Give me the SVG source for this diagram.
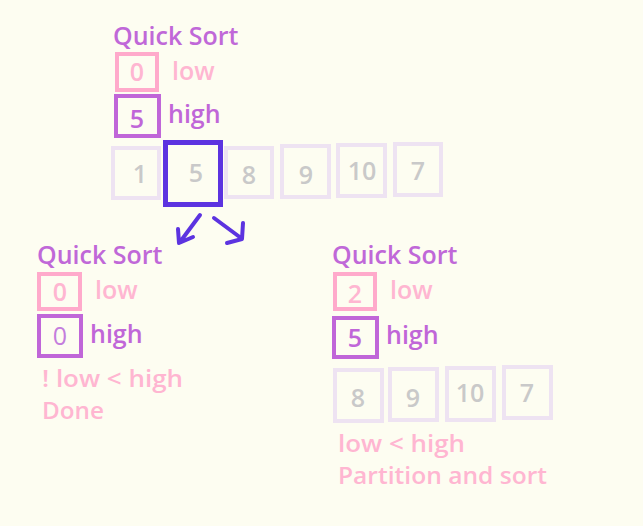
<svg xmlns="http://www.w3.org/2000/svg" width="643" height="526" viewBox="0 0 643 526">
<style>
text{font-family:"Open Sans","Noto Sans","Liberation Sans",sans-serif;font-weight:600;font-size:25px}
.title{fill:#c068d8}
.pk{fill:none;stroke:#ffaacb;stroke-width:4}
.pu{fill:none;stroke:#c066d8;stroke-width:4}
.gr{fill:none;stroke:#eee3f2;stroke-width:4}
.hl{fill:none;stroke:#5c33e0;stroke-width:5}
.pt{fill:#ffb6d1}
.ut{fill:#c066d8}
.nt{fill:#c9c9c9;text-anchor:middle}
.c{text-anchor:middle}
.note{font-size:23.5px}
.arr{fill:none;stroke:#5c33e0;stroke-width:4;stroke-linecap:round;stroke-linejoin:round}
</style>
<rect width="643" height="526" fill="#fdfdf1"/>
<g id="top">
<text class="title" x="113" y="45">Quick Sort</text>
<rect class="pk" x="117" y="54" width="40" height="36"/>
<text class="pt c" x="137" y="81">0</text>
<text class="pt" x="172" y="80">low</text>
<rect class="pu" x="116" y="96" width="43" height="40"/>
<text class="ut c" x="137" y="128">5</text>
<text class="ut" x="168" y="123">high</text>
</g>
<g id="top-array">
<rect class="gr" x="113" y="148" width="46" height="50"/>
<text class="nt" x="140" y="183">1</text>
<rect class="hl" x="165.500" y="142.500" width="55" height="62"/>
<text class="nt" x="196" y="182">5</text>
<rect class="gr" x="226" y="148" width="46" height="49"/>
<text class="nt" x="249" y="184">8</text>
<rect class="gr" x="282" y="146" width="47" height="51"/>
<text class="nt" x="306" y="184">9</text>
<rect class="gr" x="338" y="145" width="47" height="51"/>
<text class="nt" x="362" y="180">10</text>
<rect class="gr" x="395" y="144" width="46" height="51"/>
<text class="nt" x="418" y="180">7</text>
</g>
<g id="connectors">
<path class="arr" d="M200 215 L180 242 M178 229 L179 243 L193 237"/>
<path class="arr" d="M214 218 L241 238 M243 223 L242 239 L227 243"/>
</g>
<g id="left">
<text class="title" x="37" y="264">Quick Sort</text>
<rect class="pk" x="39" y="274" width="41" height="35"/>
<text class="pt c" x="60" y="301">0</text>
<text class="pt" x="95" y="299">low</text>
<rect class="pu" x="39" y="316" width="42" height="40"/>
<text class="c" fill="#c47ddd" x="60" y="345" style="font-weight:400">0</text>
<text class="ut" x="90" y="343">high</text>
<text class="pt note" x="42" y="387" textLength="141" lengthAdjust="spacingAndGlyphs">! low &lt; high</text>
<text class="pt note" x="42" y="419" textLength="62" lengthAdjust="spacingAndGlyphs">Done</text>
</g>
<g id="right">
<text class="title" x="332" y="264">Quick Sort</text>
<rect class="pk" x="335" y="274" width="40" height="35"/>
<text class="pt c" x="355" y="303">2</text>
<text class="pt" x="390" y="299">low</text>
<rect class="pu" x="334" y="318" width="43" height="39"/>
<text class="ut c" x="355" y="347">5</text>
<text class="ut" x="386" y="344">high</text>
<rect class="gr" x="335" y="370" width="47" height="51"/>
<text class="nt" x="358" y="407">8</text>
<rect class="gr" x="390" y="369" width="47" height="51"/>
<text class="nt" x="413" y="407">9</text>
<rect class="gr" x="447" y="368" width="47" height="52"/>
<text class="nt" x="470" y="402">10</text>
<rect class="gr" x="504" y="367" width="47" height="51"/>
<text class="nt" x="527" y="402">7</text>
<text class="pt note" x="338" y="452" textLength="127" lengthAdjust="spacingAndGlyphs">low &lt; high</text>
<text class="pt note" x="338" y="484" textLength="209" lengthAdjust="spacingAndGlyphs">Partition and sort</text>
</g>
</svg>
